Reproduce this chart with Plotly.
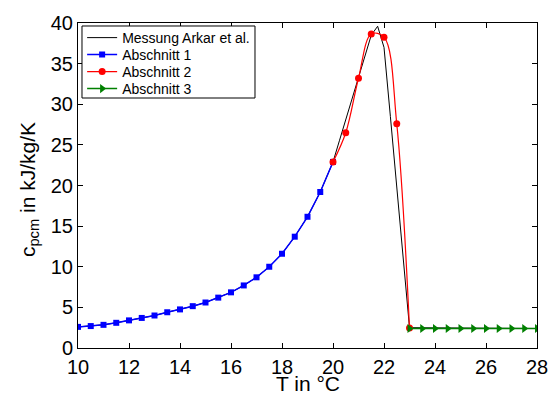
import plotly.graph_objects as go

# Abschnitt 1 (blue)
t1 = [10, 10.5, 11, 11.5, 12, 12.5, 13, 13.5, 14, 14.5, 15, 15.5, 16, 16.5, 17, 17.5, 18, 18.5, 19, 19.5, 20]
c1 = [2.6, 2.7, 2.85, 3.1, 3.4, 3.7, 4.0, 4.4, 4.75, 5.15, 5.6, 6.2, 6.85, 7.7, 8.7, 10.0, 11.6, 13.7, 16.15, 19.2, 22.9]

# Abschnitt 2 (red)
t2 = [20, 20.5, 21, 21.5, 22, 22.5, 23]
c2 = [22.9, 26.5, 33.2, 38.65, 38.25, 27.6, 2.45]

# Abschnitt 3 (green)
t3 = [23, 23.5, 24, 24.5, 25, 25.5, 26, 26.5, 27, 27.5, 28]
c3 = [2.4, 2.4, 2.4, 2.4, 2.4, 2.4, 2.4, 2.4, 2.4, 2.4, 2.4]

# Messung Arkar et al. (black)
tm = t1[:-1] + [20, 20.25, 20.5, 20.75, 21, 21.25, 21.5, 21.75, 22, 22.25, 22.5, 22.75, 23, 28]
cm = c1[:-1] + [22.9, 25.5, 28.1, 30.7, 33.3, 36.0, 38.5, 39.6, 37.0, 28.5, 19.5, 10.5, 2.5, 2.4]

x_title = "T in °C"
y_title = "c<sub>pcm</sub> in kJ/kg/K"

FONT = "Arial, Liberation Sans, sans-serif"

fig = go.Figure()
fig.add_trace(go.Scatter(x=tm, y=cm, mode="lines", name="Messung Arkar et al.",
                         legend="legend",
                         line=dict(color="black", width=1)))
fig.add_trace(go.Scatter(x=t1, y=c1, mode="lines+markers", name="Abschnitt 1",
                         legend="legend2",
                         line=dict(color="#0000FF", width=1.5),
                         marker=dict(symbol="square", size=6, color="#0000FF")))
fig.add_trace(go.Scatter(x=t2, y=c2, mode="lines+markers", name="Abschnitt 2",
                         legend="legend3",
                         line=dict(color="#FF0000", width=1.2, shape="spline", smoothing=1),
                         marker=dict(symbol="circle", size=7, color="#FF0000")))
fig.add_trace(go.Scatter(x=t3, y=c3, mode="lines+markers", name="Abschnitt 3",
                         legend="legend4",
                         line=dict(color="#008000", width=1.5),
                         marker=dict(symbol="triangle-right", size=8, color="#008000")))

axis_common = dict(showline=True, linecolor="black", linewidth=1, mirror="ticks",
                   ticks="inside", ticklen=5, tickcolor="black", showgrid=False,
                   zeroline=False, automargin=False,
                   tickfont=dict(family=FONT, size=20, color="black"))

def leg(yc):
    return dict(x=0.009, y=yc, xanchor="left", yanchor="middle",
                borderwidth=0, bgcolor="rgba(0,0,0,0)",
                font=dict(family=FONT, size=14, color="black"), itemwidth=30)

fig.update_layout(
    width=550, height=394,
    margin=dict(l=78, r=13, t=23, b=46),
    paper_bgcolor="white", plot_bgcolor="white",
    font=dict(family=FONT, color="black"),
    xaxis=dict(range=[10, 28], tickvals=[10, 12, 14, 16, 18, 20, 22, 24, 26, 28],
               ticklabelstandoff=1, **axis_common),
    yaxis=dict(range=[0, 40], tickvals=[0, 5, 10, 15, 20, 25, 30, 35, 40],
               **axis_common),
    legend=leg(0.9538),
    legend2=leg(0.9015),
    legend3=leg(0.8492),
    legend4=leg(0.7969),
    showlegend=True,
    shapes=[dict(type="rect", xref="paper", yref="paper",
                 x0=0.0087, x1=0.3856, y0=0.7692, y1=0.9908,
                 line=dict(color="black", width=1), fillcolor="white", layer="above")],
    annotations=[
        dict(text=x_title, xref="paper", yref="paper", x=0.5, y=-0.1077,
             xanchor="center", yanchor="middle", showarrow=False,
             font=dict(family=FONT, size=21, color="black")),
        dict(text=y_title, xref="paper", yref="paper", x=-0.074, y=0.486,
             xanchor="right", yanchor="middle", textangle=-90, showarrow=False,
             font=dict(family=FONT, size=21, color="black")),
    ],
)

fig.write_html("out.html")
